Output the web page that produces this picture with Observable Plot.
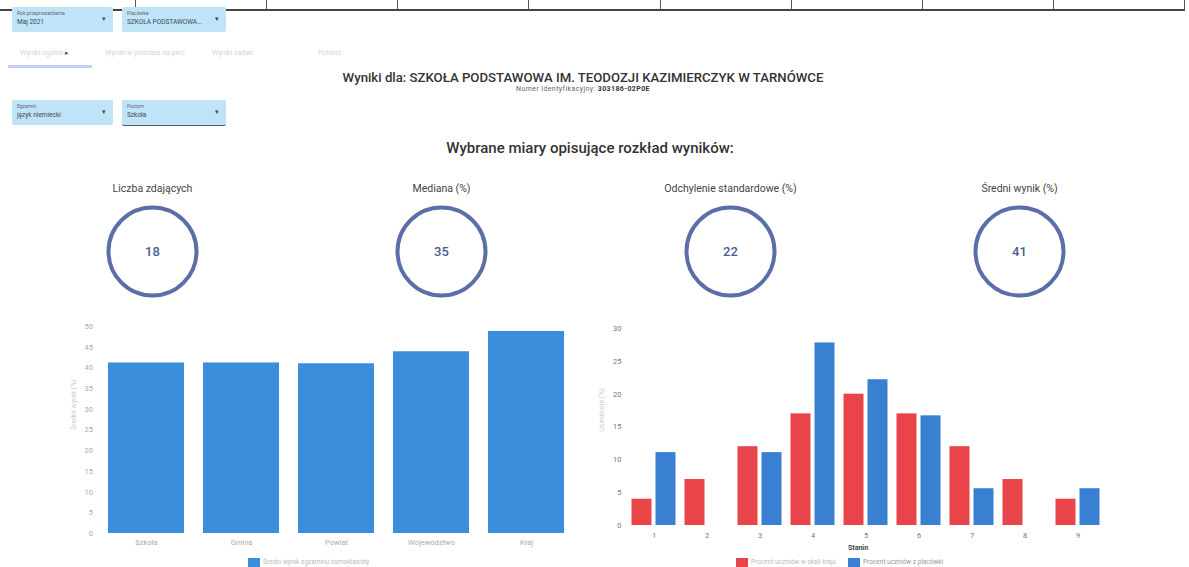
<!DOCTYPE html>
<html><head><meta charset="utf-8">
<script src="https://cdn.jsdelivr.net/npm/d3@7"></script>
<script src="https://cdn.jsdelivr.net/npm/@observablehq/plot@0.6"></script>
<style>
body{margin:0;background:#fff;font-family:Roboto,"Noto Sans",sans-serif}
#page{position:relative;width:1189px;height:567px;overflow:hidden;background:#fff}
.a{position:absolute}
.vline{position:absolute;top:0;width:1px;height:10px;background:#555}
.dd{position:absolute;height:25px;background:#bfe4f8;border-radius:2px}
.dd .l{position:absolute;left:5px;top:3px;font-size:5px;color:#667}
.dd .v{position:absolute;left:5px;top:11px;font-size:6.5px;color:#445}
.dd .arr{position:absolute;right:7px;top:8px;font-size:7px;color:#445}
.tab{position:absolute;top:49px;font-size:7px;color:#d4d4d4}
.sw{position:absolute;width:12px;height:9px}
.lg{position:absolute;font-size:6.5px;color:#bbb;white-space:nowrap}
</style></head><body><div id="page">
<div class="a" style="left:0;top:9px;width:1185px;height:2px;background:#444"></div>
<div id="vlines"></div>
<div class="dd" style="left:12px;top:7px;width:101px"><div class="l">Rok przeprowadzenia</div><div class="v">Maj 2021</div><div class="arr">▾</div></div>
<div class="dd" style="left:122px;top:7px;width:104px"><div class="l">Placówka</div><div class="v">SZKOŁA PODSTAWOWA...</div><div class="arr">▾</div></div>
<div class="tab" style="left:20px">Wyniki ogólne <span style="color:#555">▸</span></div>
<div class="tab" style="left:105px">Wyniki w podziale na płeć</div>
<div class="tab" style="left:212px">Wyniki zadań</div>
<div class="tab" style="left:318px">Pobierz</div>
<div class="a" style="left:8px;top:65px;width:84px;height:3px;background:#c3d0f3"></div>
<div class="a" style="left:0;top:70px;width:1166px;text-align:center;font-size:13.2px;font-weight:500;color:#333">Wyniki dla: SZKOŁA PODSTAWOWA IM. TEODOZJI KAZIMIERCZYK W TARNÓWCE</div>
<div class="a" style="left:0;top:85px;width:1166px;text-align:center;font-size:7px;letter-spacing:0.4px;color:#666">Numer identyfikacyjny: <b style="color:#333">303186-02P0E</b></div>
<div class="dd" style="left:12px;top:100px;width:101px"><div class="l">Egzamin</div><div class="v">język niemiecki</div><div class="arr">▾</div></div>
<div class="dd" style="left:122px;top:100px;width:104px;border-bottom:1px solid #556"><div class="l">Poziom</div><div class="v">Szkoła</div><div class="arr">▾</div></div>
<div class="a" style="left:0;top:139px;width:1180px;text-align:center;font-size:15px;font-weight:500;color:#333">Wybrane miary opisujące rozkład wyników:</div>
<div class="a" id="kpi" style="left:0;top:178px"></div>
<div class="a" id="left" style="left:0;top:318px"></div>
<div class="a" id="right" style="left:590px;top:318px"></div>
<div class="a" id="rightYLabel" style="left:602px;top:410px;font-size:7px;color:#ccc;transform:translate(-50%,-50%) rotate(-90deg);white-space:nowrap">Uczniowie (%)</div>
<div class="a" style="left:848px;top:544px;font-size:7px;color:#444;font-weight:bold">Stanin</div>
<div class="sw" style="left:248px;top:558px;background:#3b8edb"></div>
<div class="lg" style="left:263px;top:558px">Średni wynik egzaminu ósmoklasisty</div>
<div class="sw" style="left:736px;top:558px;background:#e8444a"></div>
<div class="lg" style="left:751px;top:558px">Procent uczniów w skali kraju</div>
<div class="sw" style="left:848px;top:558px;background:#3a80d2"></div>
<div class="lg" style="left:863px;top:558px;color:#999">Procent uczniów z placówki</div>
</div>
<script>
const tableColumnEdges = [135, 266, 397, 528, 660, 791, 922, 1053, 1184];
const kpiLabels = ["Liczba zdających", "Mediana (%)", "Odchylenie standardowe (%)", "Średni wynik (%)"];
const kpiValues = [18, 35, 22, 41];
const levels = ["Szkoła", "Gmina", "Powiat", "Województwo", "Kraj"];
const levelMeans = [41.2, 41.2, 41.0, 43.9, 48.8];
const stanines = [1, 2, 3, 4, 5, 6, 7, 8, 9];
const stanineNorm = [4, 7, 12, 17, 20, 17, 12, 7, 4];
const stanineSchool = [11.1, 0, 11.1, 27.8, 22.2, 16.7, 5.6, 0, 5.6];
const seriesNames = ["Procent uczniów w skali kraju", "Procent uczniów z placówki"];
const leftTicks = [0, 5, 10, 15, 20, 25, 30, 35, 40, 45, 50];
const rightTicks = [0, 5, 10, 15, 20, 25, 30];

const vl = document.getElementById("vlines");
tableColumnEdges.forEach(x => { const d = document.createElement("div"); d.className = "vline"; d.style.left = x + "px"; vl.appendChild(d); });

const kpi = kpiLabels.map((label, i) => ({label, value: kpiValues[i]}));
document.getElementById("kpi").append(Plot.plot({
  width: 1189, height: 146, marginTop: 0, marginBottom: 0, marginLeft: 7.5, marginRight: 25.5,
  style: {fontFamily: "Roboto", background: "transparent"},
  x: {type: "point", domain: kpiLabels, padding: 0.5, axis: null},
  marks: [
    Plot.dot(kpi, {x: "label", r: 44, stroke: "#5b6ea8", strokeWidth: 4}),
    Plot.text(kpi, {x: "label", text: d => String(d.value), fontSize: 13, fontWeight: 500, fill: "#4c5c94"}),
    Plot.text(kpi, {x: "label", text: "label", frameAnchor: "top", dy: 6, fontSize: 10.5, fill: "#444"})
  ]
}));

const levelData = levels.map((level, i) => ({level, value: levelMeans[i]}));
document.getElementById("left").append(Plot.plot({
  width: 590, height: 235, marginTop: 8, marginBottom: 20, marginLeft: 97.5, marginRight: 16,
  style: {fontFamily: "Roboto", fontSize: "7.5px", color: "#aaa", background: "transparent"},
  x: {domain: levels, paddingInner: 0.2, paddingOuter: 0.1, label: null, tickSize: 0, tickPadding: 6},
  y: {domain: [0, 50], ticks: leftTicks, label: null, tickSize: 0, tickPadding: 5},
  marks: [
    Plot.barY(levelData, {x: "level", y: "value", fill: "#3b8edb"}),
    Plot.text(["Średni wynik (%)"], {frameAnchor: "left", dx: -24, rotate: -90, fontSize: 7, fill: "#ccc"})
  ]
}));

const stanineData = stanines.flatMap((s, i) => [
  {stanin: s, series: seriesNames[0], value: stanineNorm[i]},
  {stanin: s, series: seriesNames[1], value: stanineSchool[i]}
]);
document.getElementById("right").append(Plot.plot({
  width: 520, height: 235, marginTop: 10, marginBottom: 28, marginLeft: 36.5, marginRight: 6.5,
  style: {fontFamily: "Roboto", fontSize: "7.5px", color: "#777", background: "transparent"},
  fx: {domain: stanines, padding: 0, label: null, tickSize: 0, tickPadding: 7},
  x: {domain: seriesNames, padding: 0.15, axis: null},
  y: {domain: [0, 30], ticks: rightTicks, label: null, tickSize: 0, tickPadding: 6},
  color: {domain: seriesNames, range: ["#e8444a", "#3a80d2"]},
  marks: [
    Plot.barY(stanineData, {fx: "stanin", x: "series", y: "value", fill: "series"})
  ]
}));
</script>
</body></html>
